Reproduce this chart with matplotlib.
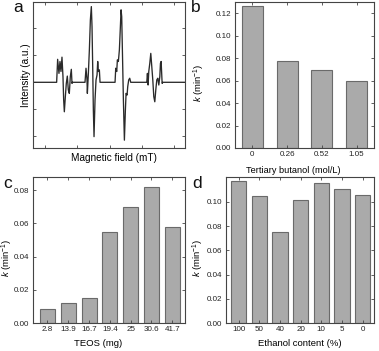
import matplotlib
matplotlib.use("Agg")
import matplotlib.pyplot as plt

plt.rcParams['font.family'] = ['Liberation Sans', 'DejaVu Sans']
plt.rcParams['mathtext.fontset'] = 'custom'
plt.rcParams['mathtext.rm'] = 'Liberation Sans'
plt.rcParams['mathtext.it'] = 'Liberation Sans:italic'

# Panel a: EPR spectrum (arbitrary units)
field = [0.63, 1.361, 1.392, 1.433, 1.464, 1.495, 1.526, 1.557, 1.578, 1.599, 1.630, 1.660,
         1.691, 1.722, 1.753, 1.784, 1.815, 1.836, 1.846,
         2.238, 2.269, 2.300, 2.311, 2.342, 2.373, 2.404, 2.434, 2.455, 2.476, 2.496, 2.517,
         2.548, 2.579, 2.610, 2.631, 2.651, 2.682, 2.703,
         3.167, 3.188, 3.219, 3.239, 3.270, 3.301, 3.332, 3.353, 3.373, 3.394, 3.425, 3.456,
         3.487, 3.508, 3.539, 3.559, 3.590, 3.621, 3.652,
         4.148, 4.168, 4.189, 4.210, 4.241, 4.272, 4.303, 4.334, 4.365, 4.396, 4.427, 4.458,
         4.489, 4.520, 4.551, 4.571, 4.592, 4.623, 4.644, 5.33]
intensity = [0, 0, 0.85, 0.33, 0.77, 0.40, 0.93, 0.21, -0.65, -1.09, -0.53, -0.04,
             0.23, -0.28, -0.41, 0.21, 0.48, -0.04, 0,
             0, 0.52, 0.09, -0.41, 0.33, 1.20, 2.31, 2.80, 2.06, 0.58, -1.02, -2.01,
             -0.65, 0.09, 0.27, 0.77, 0.40, 0.46, 0,
             0, 0.52, 0.40, 0.83, 0.77, 1.20, 2.06, 2.68, 2.43, 1.20, -0.65, -2.14,
             -1.02, -0.41, -0.47, -0.16, 0.09, 0.15, 0,
             0, 0.33, -0.10, 0.40, 0.70, 1.07, 0.58, 0.09, -0.53, -0.72, -0.28, 0.09,
             0.15, -0.10, 0.21, 0.70, 0.77, -0.04, 0, 0]

# Panel b
butanol = ['0', '0.26', '0.52', '1.05']
k_butanol = [0.126, 0.0773, 0.0695, 0.0598]

# Panel c
teos = ['2.8', '13.9', '16.7', '19.4', '25', '30.6', '41.7']
k_teos = [0.0085, 0.0121, 0.0153, 0.0550, 0.0697, 0.0821, 0.0578]

# Panel d
ethanol = ['100', '50', '40', '20', '10', '5', '0']
k_ethanol = [0.1176, 0.1047, 0.0748, 0.1012, 0.1152, 0.1107, 0.1053]

W, H = 379, 351
fig = plt.figure(figsize=(W / 100, H / 100), dpi=100)

def box(l, t, r, b):
    return [l / W, 1 - b / H, (r - l) / W, (b - t) / H]

spine_c = '#444444'
bar_fc = '#aaaaaa'
bar_ec = '#6a6a6a'
TL = 5.8
AL = 6.8

def style(ax):
    for s in ax.spines.values():
        s.set_color(spine_c)
        s.set_linewidth(0.8)
    ax.tick_params(direction='in', top=True, right=True, length=2.5, width=0.6,
                   colors=spine_c, labelcolor='#222222', labelsize=TL, pad=2.5)

axa = fig.add_axes(box(33, 2, 185, 148))
axb = fig.add_axes(box(235, 2, 374, 148))
axc = fig.add_axes(box(33, 177, 185, 323))
axd = fig.add_axes(box(226, 177, 374, 323))

# a
axa.plot(field, intensity, color='#2a2a2a', lw=0.95)
axa.set_xlim(0.63, 5.33)
axa.set_ylim(-2.43, 2.97)
axa.set_xticks([1, 2, 3, 4, 5])
axa.set_yticks([-2, -1, 0, 1, 2])
style(axa)
axa.set_xticklabels([])
axa.set_yticklabels([])
axa.set_xlabel('Magnetic field (mT)', fontsize=7.2)
axa.set_ylabel('Intensity (a.u.)', fontsize=7.2)
axa.xaxis.set_label_coords(0.53, -0.034)
axa.yaxis.set_label_coords(-0.01, 0.5)

ylab = r'$k$ (min$^{-1}$)'

# b
xb = range(len(butanol))
axb.bar(xb, k_butanol, width=0.6, color=bar_fc, edgecolor=bar_ec, linewidth=0.8)
axb.set_xlim(-0.5, 3.5)
axb.set_ylim(0, 0.13)
axb.set_yticks([0, 0.02, 0.04, 0.06, 0.08, 0.10, 0.12])
axb.set_yticklabels(['0.00', '0.02', '0.04', '0.06', '0.08', '0.10', '0.12'])
axb.set_xticks(list(xb))
axb.set_xticklabels(butanol)
style(axb)
axb.set_xlabel('Tertiary butanol (mol/L)', fontsize=6.6)
axb.set_ylabel(ylab, fontsize=AL)
axb.xaxis.set_label_coords(0.42, -0.125)
axb.yaxis.set_label_coords(-0.2, 0.45)

# c
xc = range(len(teos))
axc.bar(xc, k_teos, width=0.72, color=bar_fc, edgecolor=bar_ec, linewidth=0.8)
axc.set_xlim(-0.69, 6.61)
axc.set_ylim(0, 0.088)
axc.set_yticks([0, 0.02, 0.04, 0.06, 0.08])
axc.set_yticklabels(['0.00', '0.02', '0.04', '0.06', '0.08'])
axc.set_xticks(list(xc))
axc.set_xticklabels(teos)
style(axc)
axc.set_xlabel('TEOS (mg)', fontsize=AL)
axc.set_ylabel(ylab, fontsize=AL)
axc.xaxis.set_label_coords(0.43, -0.11)
axc.yaxis.set_label_coords(-0.12, 0.45)

# d
xd = range(len(ethanol))
axd.bar(xd, k_ethanol, width=0.74, color=bar_fc, edgecolor=bar_ec, linewidth=0.8)
axd.set_xlim(-0.61, 6.55)
axd.set_ylim(0, 0.1205)
axd.set_yticks([0, 0.02, 0.04, 0.06, 0.08, 0.10])
axd.set_yticklabels(['0.00', '0.02', '0.04', '0.06', '0.08', '0.10'])
axd.set_xticks(list(xd))
axd.set_xticklabels(ethanol)
style(axd)
axd.set_xlabel('Ethanol content (%)', fontsize=AL)
axd.set_ylabel(ylab, fontsize=AL)
axd.xaxis.set_label_coords(0.5, -0.11)
axd.yaxis.set_label_coords(-0.135, 0.45)

# panel letters
for lab, (px, py) in zip('abcd', [(18, 8), (196, 8), (8, 183), (197, 184)]):
    fig.text(px / W, 1 - py / H, lab, fontsize=12.5, ha='center', va='center', color='#111111')

fig.savefig('out.png', dpi=100)
